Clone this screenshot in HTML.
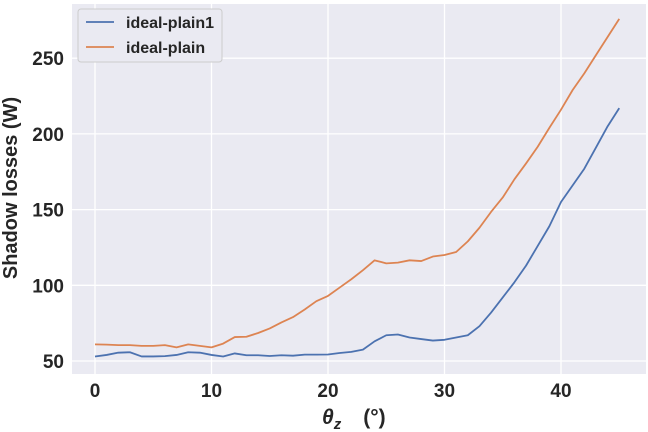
<!DOCTYPE html>
<html><head><meta charset="utf-8"><style>
body{margin:0;background:#fff;}
svg{display:block;font-family:"Liberation Sans","DejaVu Sans",sans-serif;}
</style></head><body>
<svg id="chart" width="648" height="432" viewBox="0 0 648 432">
<rect x="72" y="4" width="574" height="370" fill="#eaeaf2"/>
<g id="grid"></g><g id="ticks"></g><g id="series"></g>
<text x="17" y="188" transform="rotate(-90 17 188)" font-size="20" font-weight="bold" fill="#262626" text-anchor="middle">Shadow losses (W)</text>
<text x="322" y="424" font-size="21" font-weight="bold" fill="#262626"><tspan font-style="italic">θ</tspan><tspan font-style="italic" font-size="15" dy="5">z</tspan><tspan dy="-5" dx="22">(°)</tspan></text>
<g>
<rect x="78" y="9" width="144" height="53" rx="3" fill="#eaeaf2" stroke="#cccccc"/>
<line x1="86" y1="22" x2="114" y2="22" stroke="#4c72b0" stroke-width="1.8"/>
<text x="126" y="28" font-size="16" font-weight="bold" fill="#262626">ideal-plain1</text>
<line x1="86" y1="47" x2="114" y2="47" stroke="#dd8452" stroke-width="1.8"/>
<text x="126" y="53" font-size="16" font-weight="bold" fill="#262626">ideal-plain</text>
</g>
</svg>
<script>
const xTicks=[0,10,20,30,40];
const yTicks=[50,100,150,200,250];
const plain1=[53,54,55.5,55.8,53,53,53.2,54,55.8,55.5,54,53,55,53.8,53.8,53.3,53.8,53.5,54.2,54.2,54.3,55.3,56,57.5,63,67,67.5,65.5,64.5,63.5,64,65.5,67,73,82,92,102,113,126,139,155,166,177,191,205,217];
const plain=[61,60.8,60.5,60.5,60,60,60.5,59,61,60,59,61.5,65.8,66,68.5,71.5,75.5,79,84,89.5,93,98.5,104,110,116.5,114.5,115,116.5,116,119,120,122,129,138,148.5,158,170,180.5,191.5,204,216,229,240,252,264,276];
const NS="http://www.w3.org/2000/svg";
function X(v){return 95+v*11.65;}
function Y(v){return 361-(v-50)*1.514;}
const grid=document.getElementById('grid'),ticks=document.getElementById('ticks'),ser=document.getElementById('series');
function mk(tag,attrs,parent){const e=document.createElementNS(NS,tag);for(const k in attrs)e.setAttribute(k,attrs[k]);parent.appendChild(e);return e;}
xTicks.forEach(t=>{
 const l=mk('line',{x1:X(t),x2:X(t),y1:4,y2:374,stroke:'#fff','stroke-width':1.3},grid);
 
 
 const tx=mk('text',{x:X(t),y:397,'font-size':19,'font-weight':'bold',fill:'#262626','text-anchor':'middle'},ticks);
 tx.textContent=t;
 
 
});
yTicks.forEach(t=>{
 const l=mk('line',{x1:72,x2:646,y1:Y(t),y2:Y(t),stroke:'#fff','stroke-width':1.3},grid);
 
 
 const tx=mk('text',{x:64,y:Y(t)+7,'font-size':19,'font-weight':'bold',fill:'#262626','text-anchor':'end'},ticks);
 tx.textContent=t;
 
 
});
function line(data,color,name){
 const p=mk('polyline',{points:data.map((v,i)=>X(i)+','+Y(v)).join(' '),fill:'none',stroke:color,'stroke-width':1.8,'stroke-linejoin':'round'},ser);
 
 
}
line(plain1,'#4c72b0','series-ideal-plain1');
line(plain,'#dd8452','series-ideal-plain');
</script>
</body></html>
